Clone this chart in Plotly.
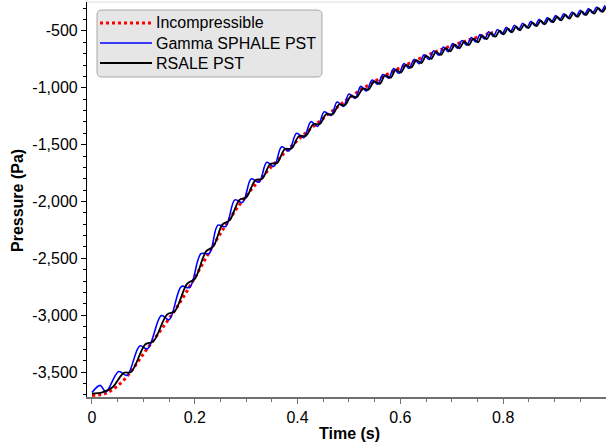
import plotly.graph_objects as go

# Incompressible (red dotted)
t_incomp = [0, 0.025, 0.05, 0.075, 0.1, 0.125, 0.15, 0.175, 0.2, 0.225, 0.25, 0.275, 0.3,
            0.325, 0.35, 0.375, 0.4, 0.425, 0.45, 0.475, 0.5, 0.525, 0.55, 0.575, 0.6,
            0.625, 0.65, 0.675, 0.7, 0.725, 0.75, 0.78]
p_incomp = [-3705, -3690, -3620, -3500, -3340, -3185, -3030, -2860, -2670, -2470, -2280, -2105, -1950,
            -1815, -1690, -1570, -1462, -1362, -1268, -1178, -1090, -1012, -945, -880, -822,
            -768, -718, -672, -630, -592, -555, -512]

# Gamma SPHALE PST (blue)
t_gamma = [0.000, 0.016, 0.027, 0.052, 0.068, 0.093, 0.108, 0.135, 0.150, 0.174, 0.190, 0.212, 0.228,
           0.245, 0.260, 0.278, 0.293, 0.310, 0.325, 0.340, 0.354, 0.369, 0.383, 0.398, 0.412,
           0.426, 0.439, 0.452, 0.465, 0.477, 0.489, 0.500, 0.512, 0.523, 0.534, 0.545, 0.556,
           0.566, 0.577, 0.587, 0.597, 0.607, 0.617, 0.627, 0.637, 0.646, 0.656, 0.665, 0.675,
           0.684, 0.693, 0.702, 0.711, 0.720, 0.729, 0.738, 0.747, 0.755, 0.764, 0.772, 0.781,
           0.789, 0.798, 0.806, 0.814, 0.822, 0.830, 0.838, 0.846, 0.854, 0.862, 0.870, 0.878,
           0.886, 0.894, 0.902, 0.910, 0.918, 0.926, 0.934, 0.942, 0.950, 0.958, 0.966, 0.974,
           0.982, 0.990, 0.998]
p_gamma = [-3680, -3617, -3674, -3495, -3529, -3270, -3295, -3003, -3040, -2747, -2756, -2459, -2457,
           -2208, -2220, -1986, -2008, -1801, -1830, -1655, -1691, -1519, -1555, -1401, -1439,
           -1298, -1339, -1211, -1244, -1126, -1164, -1055, -1093, -988, -1028, -933, -969,
           -883, -915, -832, -873, -787, -829, -749, -788, -711, -751, -675, -714,
           -642, -684, -612, -652, -585, -625, -558, -598, -533, -571, -507, -548,
           -488, -527, -469, -509, -451, -489, -433, -471, -416, -455, -399, -438,
           -383, -421, -366, -403, -350, -387, -334, -372, -319, -357, -304, -342,
           -290, -328, -276]

# RSALE PST (black)
t_rsale = [0.000, 0.020, 0.040, 0.062, 0.076, 0.104, 0.119, 0.146, 0.161, 0.185, 0.200, 0.222, 0.236,
           0.254, 0.268, 0.287, 0.300, 0.318, 0.331, 0.347, 0.360, 0.375, 0.388, 0.403, 0.416,
           0.431, 0.443, 0.456, 0.468, 0.481, 0.492, 0.504, 0.515, 0.527, 0.538, 0.549, 0.560,
           0.570, 0.581, 0.591, 0.601, 0.611, 0.621, 0.631, 0.641, 0.650, 0.660, 0.669, 0.679,
           0.688, 0.697, 0.706, 0.715, 0.724, 0.733, 0.742, 0.751, 0.759, 0.768, 0.776, 0.785,
           0.793, 0.801, 0.809, 0.817, 0.825, 0.833, 0.841, 0.849, 0.857, 0.865, 0.873, 0.881,
           0.889, 0.897, 0.905, 0.913, 0.921, 0.929, 0.937, 0.945, 0.953, 0.961, 0.969, 0.977,
           0.985, 0.993, 1.000]
p_rsale = [-3690, -3679, -3633, -3507, -3499, -3255, -3232, -2995, -2965, -2724, -2680, -2439, -2396,
           -2202, -2164, -1986, -1965, -1813, -1800, -1670, -1662, -1540, -1534, -1425, -1423,
           -1319, -1319, -1231, -1233, -1147, -1153, -1073, -1083, -1007, -1017, -944, -965,
           -891, -912, -841, -866, -799, -823, -757, -782, -719, -746, -684, -711,
           -651, -681, -622, -653, -595, -626, -568, -600, -543, -572, -518, -551,
           -499, -531, -481, -513, -463, -495, -445, -475, -427, -458, -410, -442,
           -393, -424, -376, -408, -360, -392, -344, -377, -329, -362, -315, -347,
           -300, -333, -287]

series_names = ["Incompressible", "Gamma SPHALE PST", "RSALE PST"]
series_colors = ["#ff0000", "#0000ff", "#000000"]
series_dash = ["dot", "solid", "solid"]
series_width = [3, 1.6, 1.8]

y_tickvals = [-3500, -3000, -2500, -2000, -1500, -1000, -500]
y_ticktext = ["-3,500", "-3,000", "-2,500", "-2,000", "-1,500", "-1,000", "-500"]
x_tickvals = [0, 0.2, 0.4, 0.6, 0.8, 1]
x_ticktext = ["0", "0.2", "0.4", "0.6", "0.8", "1"]

FONT = "Liberation Sans, Arial, sans-serif"
W, H = 606, 447
ML, MR, MT, MB = 87, 0, 2, 50
PW, PH = W - ML - MR, H - MT - MB


def px_x(px):
    return (px - ML) / PW


def px_y(py):
    return (H - MB - py) / PH


fig = go.Figure()
data = [(t_incomp, p_incomp), (t_gamma, p_gamma), (t_rsale, p_rsale)]
for (tx, py), nm, col, ds, lw in zip(data, series_names, series_colors, series_dash, series_width):
    fig.add_trace(go.Scatter(x=tx, y=py, mode="lines", name=nm, showlegend=False,
                             line=dict(color=col, width=lw, dash=ds, shape="spline", smoothing=1.0)))

# custom legend box (rounded rectangle) built in paper coordinates
bx0, bx1, by0, by1 = px_x(97), px_x(322), px_y(77), px_y(10)
rx, ry = 5 / PW, 5 / PH
box_path = (f"M {bx0+rx},{by1} L {bx1-rx},{by1} Q {bx1},{by1} {bx1},{by1-ry} "
            f"L {bx1},{by0+ry} Q {bx1},{by0} {bx1-rx},{by0} L {bx0+rx},{by0} "
            f"Q {bx0},{by0} {bx0},{by0+ry} L {bx0},{by1-ry} Q {bx0},{by1} {bx0+rx},{by1} Z")
shapes = [
    dict(type="line", xref="paper", yref="paper", x0=0, x1=1, y0=1, y1=1,
         line=dict(color="#e0e0e0", width=1)),
    dict(type="path", xref="paper", yref="paper", path=box_path,
         fillcolor="#e6e6e6", line=dict(color="#a8a8a8", width=1), layer="above"),
]
annotations = []
row_y = [23, 43, 63]
for ry_px, nm, col, ds, lw in zip(row_y, series_names, series_colors, series_dash, series_width):
    shapes.append(dict(type="line", xref="paper", yref="paper",
                       x0=px_x(100), x1=px_x(152), y0=px_y(ry_px), y1=px_y(ry_px),
                       line=dict(color=col, width=lw, dash=ds), layer="above"))
    annotations.append(dict(xref="paper", yref="paper", x=px_x(154), y=px_y(ry_px),
                            xanchor="left", yanchor="middle", showarrow=False, text=nm,
                            font=dict(family=FONT, size=16, color="black")))

annotations.append(dict(xref="paper", yref="paper", x=px_x(349), y=px_y(433),
                        xanchor="center", yanchor="middle", showarrow=False,
                        text="<b>Time (s)</b>", font=dict(family=FONT, size=16, color="black")))
annotations.append(dict(xref="paper", yref="paper", x=px_x(17), y=px_y(201),
                        xanchor="center", yanchor="middle", showarrow=False, textangle=-90,
                        text="<b>Pressure (Pa)</b>", font=dict(family=FONT, size=16, color="black")))

fig.update_layout(
    width=W, height=H,
    margin=dict(l=ML, r=MR, t=MT, b=MB, autoexpand=False),
    paper_bgcolor="white", plot_bgcolor="white",
    font=dict(family=FONT, size=16, color="black"),
    showlegend=False,
    xaxis=dict(range=[-0.0097, 1.0], showgrid=False, zeroline=False, automargin=False,
               showline=True, linecolor="#707070", linewidth=1.5,
               tickmode="array", tickvals=x_tickvals, ticktext=x_ticktext,
               ticks="outside", ticklen=5, tickcolor="#707070",
               minor=dict(tickmode="linear", tick0=0, dtick=0.05, ticks="outside",
                          ticklen=3, tickcolor="#707070"),
               tickfont=dict(family=FONT, size=16)),
    yaxis=dict(range=[-3719, -246], showgrid=False, zeroline=False, automargin=False,
               showline=True, linecolor="black", linewidth=1.2,
               tickmode="array", tickvals=y_tickvals, ticktext=y_ticktext,
               ticks="outside", ticklen=5, tickcolor="black",
               minor=dict(tickmode="linear", tick0=0, dtick=100, ticks="outside",
                          ticklen=3, tickcolor="black"),
               tickfont=dict(family=FONT, size=16)),
    shapes=shapes,
    annotations=annotations,
)

fig.write_html("out.html", config={"displayModeBar": False},
               post_script="document.body.style.margin='0';")
